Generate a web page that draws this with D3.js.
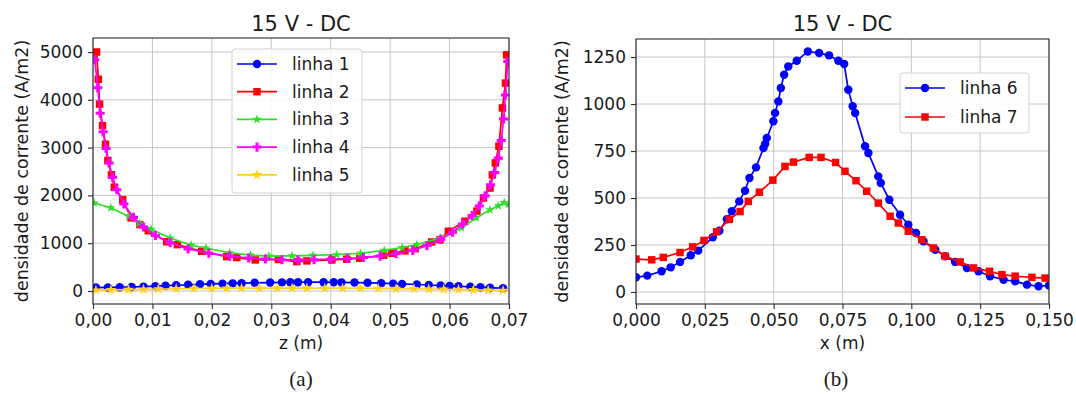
<!DOCTYPE html>
<html>
<head>
<meta charset="utf-8">
<script src="https://cdn.jsdelivr.net/npm/d3@7"></script>
<style>
  body { margin: 0; background: #fff; }
  svg { display: block; }
  text { font-family: "DejaVu Sans", sans-serif; fill: #1a1a1a; }
</style>
</head>
<body>
<svg id="fig" width="1076" height="394"></svg>
<script>
// ---- Panel (a): current density along z, lines 1-5 ----
const z1 = [0.0005,0.0025,0.0045,0.0065,0.0085,0.0105,0.0122,0.0140,0.0160,0.0180,0.0198,0.0218,0.0235,0.0250,0.0272,0.0298,0.0318,0.0332,0.0345,0.0362,0.0388,0.0405,0.0418,0.0440,0.0462,0.0485,0.0505,0.0520,0.0545,0.0565,0.0585,0.0600,0.0615,0.0635,0.0652,0.0668,0.0690];
const j1 = [72,75,80,84,92,102,112,120,130,140,147,154,160,164,171,177,181,183,184,185,184,183,181,177,171,163,154,148,136,126,114,106,99,88,80,70,56];

const z2 = [0.0006,0.0009,0.0011,0.0016,0.0021,0.0025,0.0031,0.0036,0.0050,0.0064,0.0079,0.0093,0.0124,0.0142,0.0183,0.0225,0.0242,0.0273,0.0312,0.0343,0.0360,0.0402,0.0427,0.0449,0.0489,0.0503,0.0525,0.0542,0.0570,0.0584,0.0598,0.0626,0.0646,0.0657,0.0668,0.0672,0.0677,0.0683,0.0689,0.0694,0.0696];
const j2 = [5000,4430,3910,3460,3070,2730,2430,2170,1910,1530,1390,1260,1030,970,830,720,700,650,660,615,630,650,665,685,750,790,840,885,1025,1075,1250,1460,1670,1945,2155,2430,2680,3030,3830,4350,4940];

const z3 = [0.0002,0.0030,0.0060,0.0078,0.0098,0.0130,0.0165,0.0190,0.0230,0.0265,0.0296,0.0335,0.0370,0.0410,0.0450,0.0490,0.0520,0.0545,0.0585,0.0620,0.0645,0.0668,0.0682,0.0692,0.0699];
const j3 = [1840,1740,1560,1420,1290,1110,960,900,800,750,730,735,745,760,790,850,910,970,1110,1320,1530,1700,1780,1850,1810];

const z4 = [0.0003,0.0008,0.0012,0.0017,0.0022,0.0027,0.0033,0.0040,0.0052,0.0068,0.0085,0.0105,0.0130,0.0160,0.0195,0.0230,0.0262,0.0290,0.0318,0.0345,0.0372,0.0400,0.0428,0.0455,0.0483,0.0510,0.0538,0.0562,0.0585,0.0605,0.0622,0.0638,0.0650,0.0660,0.0669,0.0676,0.0682,0.0687,0.0691,0.0694,0.0698];
const j4 = [4840,4250,3720,3330,2980,2680,2380,2120,1820,1540,1340,1160,1010,880,790,730,690,670,655,650,655,665,680,700,730,780,850,950,1080,1230,1400,1580,1780,1990,2220,2480,2780,3150,3600,4100,4800];

const z5 = [0.0005,0.0030,0.0060,0.0085,0.0110,0.0140,0.0170,0.0200,0.0225,0.0250,0.0280,0.0310,0.0335,0.0360,0.0390,0.0420,0.0450,0.0480,0.0510,0.0540,0.0565,0.0590,0.0615,0.0640,0.0665,0.0690];
const j5 = [18,24,30,36,42,47,52,55,57,59,60,61,61,61,60,59,57,54,51,47,42,37,31,24,17,10];

const zTicks = [0, 0.01, 0.02, 0.03, 0.04, 0.05, 0.06, 0.07];
const jTicksA = [0, 1000, 2000, 3000, 4000, 5000];

// ---- Panel (b): current density along x, lines 6-7 ----
const x6 = [0,0.0041,0.0093,0.0126,0.0160,0.0199,0.0226,0.0279,0.0303,0.0330,0.0348,0.0375,0.0396,0.0412,0.0436,0.0463,0.0469,0.0475,0.0499,0.0505,0.0517,0.0526,0.0538,0.0553,0.0584,0.0624,0.0665,0.0701,0.0735,0.0756,0.0771,0.0787,0.0796,0.0832,0.0844,0.0880,0.0889,0.0920,0.0959,0.0989,0.1017,0.1044,0.1087,0.1123,0.1159,0.1202,0.1244,0.1286,0.1335,0.1377,0.1420,0.1462,0.1500];
const j6 = [78,87,110,131,160,195,220,291,326,387,429,482,539,606,663,766,787,819,908,952,1014,1085,1156,1200,1230,1280,1271,1259,1230,1213,1076,988,952,775,739,615,580,491,411,358,314,270,225,190,160,128,110,84,65,57,39,30,35];

const x7 = [0,0.0057,0.0099,0.0160,0.0206,0.0247,0.0293,0.0339,0.0378,0.0408,0.0448,0.0497,0.0541,0.0572,0.0629,0.0672,0.0725,0.0759,0.0799,0.0838,0.0880,0.0923,0.0953,0.0989,0.1038,0.1080,0.1123,0.1177,0.1226,0.1284,0.1329,0.1377,0.1438,0.1486];
const j7 = [175,171,184,210,240,274,320,386,428,482,531,595,668,691,716,716,689,642,592,536,473,403,367,323,278,234,190,160,128,110,92,84,78,74];

const xTicks = [0, 0.025, 0.05, 0.075, 0.1, 0.125, 0.15];
const jTicksB = [0, 250, 500, 750, 1000, 1250];

// Decimal comma, no thousands grouping
const loc = d3.formatLocale({ decimal: ",", thousands: "", grouping: [3], currency: ["", ""] });

const svg = d3.select("#fig");
svg.append("rect").attr("width", 1076).attr("height", 394).attr("fill", "#fff");

const markerShapes = {
  circle: { type: d3.symbolCircle, size: 56 },
  square: { type: d3.symbolSquare, size: 56 },
  star:   { type: d3.symbolStar,   size: 28 },
  plus:   { type: d3.symbolCross,  size: 46 },
  star2:  { type: d3.symbolStar,   size: 36 }
};

function drawPanel(cfg, id) {
  const x = d3.scaleLinear().domain(cfg.xDomain).range([cfg.left, cfg.right]);
  const y = d3.scaleLinear().domain(cfg.yDomain).range([cfg.bottom, cfg.top]);
  const g = svg.append("g");

  // grid
  g.append("g").selectAll("line").data(cfg.xTicks).join("line")
    .attr("x1", d => x(d)).attr("x2", d => x(d))
    .attr("y1", cfg.top).attr("y2", cfg.bottom)
    .attr("stroke", "#c4c4c4").attr("stroke-width", 1);
  g.append("g").selectAll("line").data(cfg.yTicks).join("line")
    .attr("x1", cfg.left).attr("x2", cfg.right)
    .attr("y1", d => y(d)).attr("y2", d => y(d))
    .attr("stroke", "#c4c4c4").attr("stroke-width", 1);

  // clip to the axes box
  svg.append("clipPath").attr("id", "clip" + id)
    .append("rect").attr("x", cfg.left).attr("y", cfg.top)
    .attr("width", cfg.right - cfg.left).attr("height", cfg.bottom - cfg.top);
  const plot = g.append("g").attr("clip-path", `url(#clip${id})`);

  const line = d3.line().x(d => x(d[0])).y(d => y(d[1]));
  cfg.series.forEach(s => {
    const pts = s.xs.map((v, i) => [v, s.ys[i]]);
    plot.append("path").datum(pts).attr("d", line)
      .attr("fill", "none").attr("stroke", s.color).attr("stroke-width", 1.7);
    const m = markerShapes[s.marker];
    const sym = d3.symbol().type(m.type).size(m.size);
    plot.append("g").selectAll("path").data(pts).join("path")
      .attr("d", sym)
      .attr("transform", d => `translate(${x(d[0])},${y(d[1])})`)
      .attr("fill", s.color);
  });

  // frame
  g.append("rect").attr("x", cfg.left).attr("y", cfg.top)
    .attr("width", cfg.right - cfg.left).attr("height", cfg.bottom - cfg.top)
    .attr("fill", "none").attr("stroke", "#2a2a2a").attr("stroke-width", 1.1);

  // axes
  const xa = g.append("g").attr("transform", `translate(0,${cfg.bottom})`)
    .call(d3.axisBottom(x).tickValues(cfg.xTicks).tickFormat(cfg.xFormat).tickSize(5).tickPadding(5));
  const ya = g.append("g").attr("transform", `translate(${cfg.left},0)`)
    .call(d3.axisLeft(y).tickValues(cfg.yTicks).tickFormat(loc.format("d")).tickSize(5).tickPadding(5));
  [xa, ya].forEach(a => {
    a.select(".domain").remove();
    a.selectAll(".tick line").attr("stroke", "#2a2a2a").attr("stroke-width", 1.1);
    a.selectAll(".tick text").attr("font-size", 17).attr("font-family", "DejaVu Sans").attr("fill", "#1a1a1a");
  });

  const cx = (cfg.left + cfg.right) / 2;
  g.append("text").attr("x", cx).attr("y", 31).attr("text-anchor", "middle")
    .attr("font-size", 21).text(cfg.title);
  g.append("text").attr("x", cx).attr("y", 349).attr("text-anchor", "middle")
    .attr("font-size", 17).text(cfg.xLabel);
  g.append("text").attr("transform", `translate(${cfg.yLabelX},${(cfg.top + cfg.bottom) / 2}) rotate(-90)`)
    .attr("text-anchor", "middle").attr("font-size", 17.5).text(cfg.yLabel);
  g.append("text").attr("x", cfg.captionX).attr("y", 386).attr("text-anchor", "middle")
    .attr("font-size", 21).style("font-family", "'Liberation Serif', serif").text(cfg.caption);

  // legend
  const L = cfg.legend;
  const lg = g.append("g");
  lg.append("rect").attr("x", L.x).attr("y", L.y).attr("width", L.w).attr("height", L.h)
    .attr("rx", 3).attr("fill", "#fff").attr("fill-opacity", 0.85)
    .attr("stroke", "#d2d2d2").attr("stroke-width", 1);
  cfg.series.forEach((s, i) => {
    const yy = L.y + L.first + i * L.step;
    const m = markerShapes[s.marker];
    lg.append("line").attr("x1", L.x + 5).attr("x2", L.x + 45).attr("y1", yy).attr("y2", yy)
      .attr("stroke", s.color).attr("stroke-width", 1.7);
    lg.append("path").attr("d", d3.symbol().type(m.type).size(m.size)())
      .attr("transform", `translate(${L.x + 25},${yy})`).attr("fill", s.color);
    lg.append("text").attr("x", L.x + 60).attr("y", yy + 6).attr("font-size", 17).text(s.name);
  });
}

drawPanel({
  left: 93, right: 509, top: 38, bottom: 304,
  xDomain: [0, 0.07], yDomain: [-272, 5293],
  xTicks: zTicks, yTicks: jTicksA, xFormat: loc.format(".2f"),
  title: "15 V - DC", xLabel: "z (m)", yLabel: "densidade de corrente (A/m2)",
  yLabelX: 28, caption: "(a)", captionX: 301,
  legend: { x: 232, y: 49, w: 130, h: 144, first: 15, step: 27.7 },
  series: [
    { name: "linha 1", xs: z1, ys: j1, color: "#0000ff", marker: "circle" },
    { name: "linha 2", xs: z2, ys: j2, color: "#ff0000", marker: "square" },
    { name: "linha 3", xs: z3, ys: j3, color: "#2be02b", marker: "star" },
    { name: "linha 4", xs: z4, ys: j4, color: "#ff00ff", marker: "plus" },
    { name: "linha 5", xs: z5, ys: j5, color: "#ffd21a", marker: "star2" }
  ]
}, "a");

drawPanel({
  left: 636, right: 1049, top: 39, bottom: 304,
  xDomain: [0, 0.15], yDomain: [-64, 1346],
  xTicks: xTicks, yTicks: jTicksB, xFormat: loc.format(".3f"),
  title: "15 V - DC", xLabel: "x (m)", yLabel: "densidade de corrente (A/m2)",
  yLabelX: 568, caption: "(b)", captionX: 836,
  legend: { x: 900, y: 73, w: 129, h: 60, first: 15, step: 29 },
  series: [
    { name: "linha 6", xs: x6, ys: j6, color: "#0000ff", marker: "circle" },
    { name: "linha 7", xs: x7, ys: j7, color: "#ff0000", marker: "square" }
  ]
}, "b");
</script>
</body>
</html>
